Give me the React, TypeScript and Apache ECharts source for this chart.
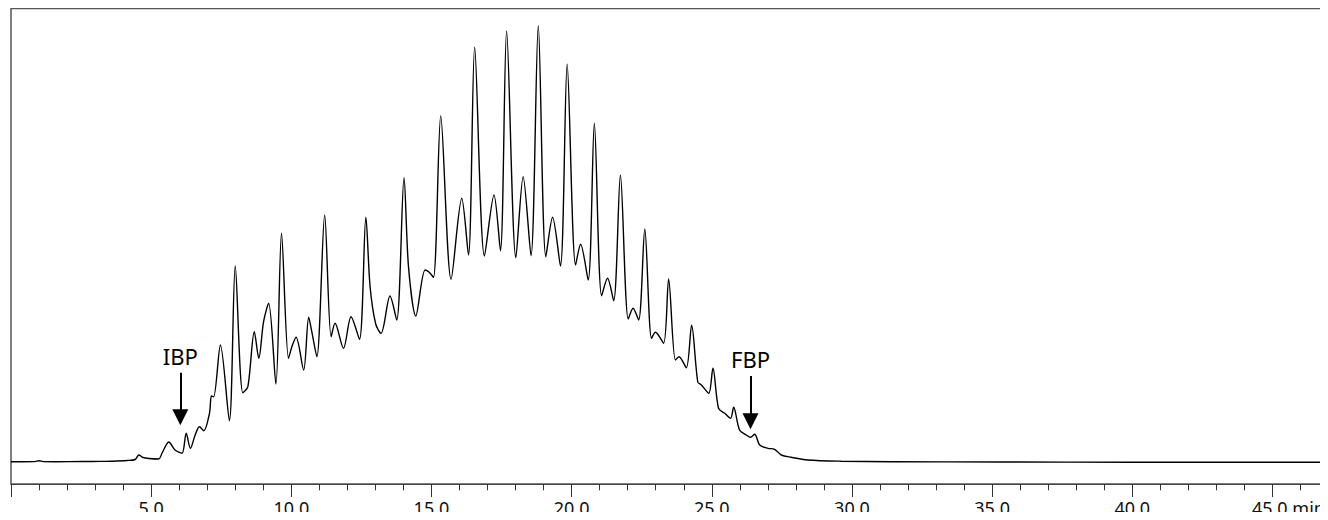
import React, { useEffect, useRef } from 'react';
import * as echarts from 'echarts';

// Retention time (min) and detector signal (arbitrary units, baseline = 0)
const retentionTime = [
  0.0, 0.4, 0.85, 1.0, 1.15, 1.6, 2.54, 3.2, 3.61, 4.14, 4.43, 4.56, 4.71, 4.92, 5.27, 5.39,
  5.63, 5.85, 6.1, 6.25, 6.4, 6.57, 6.72, 6.88, 7.08, 7.15, 7.23, 7.47, 7.79, 8.0, 8.27, 8.45,
  8.68, 8.84, 9.01, 9.19, 9.45, 9.65, 9.9, 10.02, 10.17, 10.44, 10.62, 10.73, 10.91, 11.19, 11.42,
  11.56, 11.86, 12.13, 12.43, 12.66, 12.81, 13.01, 13.2, 13.52, 13.76, 14.02, 14.18, 14.44, 14.77,
  14.9, 15.07, 15.33, 15.7, 16.08, 16.32, 16.54, 16.89, 17.23, 17.46, 17.68, 18.01, 18.27, 18.55,
  18.81, 19.08, 19.32, 19.6, 19.84, 20.14, 20.32, 20.59, 20.81, 21.07, 21.28, 21.5, 21.74, 22.02,
  22.19, 22.39, 22.61, 22.85, 22.99, 23.28, 23.46, 23.7, 23.83, 24.09, 24.28, 24.5, 24.63, 24.89,
  25.04, 25.24, 25.46, 25.67, 25.78, 25.99, 26.23, 26.38, 26.53, 26.71, 27.0, 27.24, 27.48, 27.83,
  28.42, 29.62, 31.4, 35.32, 40.0, 47.0, 50.0,
];
const signal = [
  0.3, 0.3, 0.4, 1.3, 0.4, 0.3, 0.5, 0.6, 0.8, 1.5, 2.5, 7, 4.5, 3.5, 3, 9,
  20, 12, 8.7, 28.7, 13.7, 27, 35.3, 31.3, 48.7, 66, 65.3, 117, 41.3, 196, 69.3, 75.3,
  130.3, 103.7, 140.3, 158.7, 78, 228.7, 103.7, 115.3, 124.7, 92, 144.7, 130.3, 105.3, 247, 125.3,
  138.7, 113.7, 145.3, 122.7, 244.7, 175.3, 138, 128.7, 166, 142, 284.3, 195.3, 146, 192,
  190.3, 184.7, 346, 182.7, 263.7, 207, 414.7, 206, 267, 211.3, 431, 204.3, 285.3, 206.3,
  436.3, 205.3, 244.7, 196, 397.7, 197, 217.7, 182, 338.7, 166.3, 183.7, 161.3, 287, 143,
  153.7, 142, 233, 123.7, 129.7, 118.7, 183, 102, 105.3, 94.3, 136.7, 80, 77, 68.7,
  93.7, 53.7, 48.7, 43.7, 54.7, 32, 27, 24.7, 27.7, 17, 13.7, 12.7, 7, 4.7,
  2, 0.8, 0.3, 0, -0.2, -0.3, -0.3,
];

// Boiling point markers
const markerNames = ['IBP', 'FBP'];
const markerTime = [6.04, 26.38];
const markerTop = [89.3, 86];
const markerHead = [44.8, 40.7];

const axisMajorStep = 5;
const axisUnit = 'min';

const LABEL_FONT = 'Noto Sans';

export default function App() {
  const ref = useRef<HTMLDivElement>(null);

  useEffect(() => {
    if (!ref.current) return;
    const chart = echarts.init(ref.current, null, { renderer: 'svg' });
    const data = retentionTime.map((t, i) => [t, signal[i]]);
    chart.setOption({
      animation: false,
      grid: {
        show: true,
        left: 0.6,
        top: 0.5,
        width: 1404,
        height: 475.5,
        borderColor: '#555',
        borderWidth: 1.5,
        backgroundColor: 'transparent',
      },
      xAxis: {
        type: 'value',
        min: 0,
        max: 50,
        interval: axisMajorStep,
        axisLine: { show: true, onZero: false, lineStyle: { color: '#444', width: 1 } },
        axisTick: { show: true, length: 13, lineStyle: { color: '#333', width: 1 } },
        minorTick: { show: true, splitNumber: 5, length: 6.3, lineStyle: { color: '#333', width: 1 } },
        splitLine: { show: false },
        minorSplitLine: { show: false },
        axisLabel: {
          margin: 16,
          fontSize: 18,
          lineHeight: 16,
          fontFamily: LABEL_FONT,
          color: '#111',
          formatter: (v: number) => {
            if (v === 0 || v > 45) return '';
            if (v === 45) return '{u|' + v.toFixed(1) + ' ' + axisUnit + '}';
            return v.toFixed(1);
          },
          rich: {
            u: {
              fontSize: 18,
              lineHeight: 16,
              fontFamily: LABEL_FONT,
              color: '#111',
              padding: [0, 0, 0, 32],
            },
          },
        },
      },
      yAxis: {
        type: 'value',
        min: -22,
        max: 453.5,
        show: false,
        splitLine: { show: false },
      },
      series: [
        {
          type: 'line',
          data,
          showSymbol: false,
          symbol: 'none',
          smooth: 0.3,
          lineStyle: { color: '#000', width: 1.4 },
          emphasis: { disabled: true },
          silent: true,
          markLine: {
            silent: true,
            symbol: ['none', 'triangle'],
            symbolSize: [16, 16],
            lineStyle: { color: '#000', width: 2, type: 'solid' },
            emphasis: { disabled: true },
            label: {
              show: true,
              position: 'start',
              formatter: '{b}',
              fontSize: 22,
              fontFamily: LABEL_FONT,
              color: '#000',
              distance: 6,
            },
            data: markerNames.map((name, i) => [
              { name, coord: [markerTime[i], markerTop[i]] },
              { coord: [markerTime[i], markerHead[i]] },
            ]),
          },
        },
      ],
    });
    return () => chart.dispose();
  }, []);

  return (
    <div style={{ width: 1320, height: 512, marginBottom: -8, overflow: 'hidden', position: 'relative' }}>
      <div ref={ref} style={{ width: 1420, height: 512 }} />
    </div>
  );
}
